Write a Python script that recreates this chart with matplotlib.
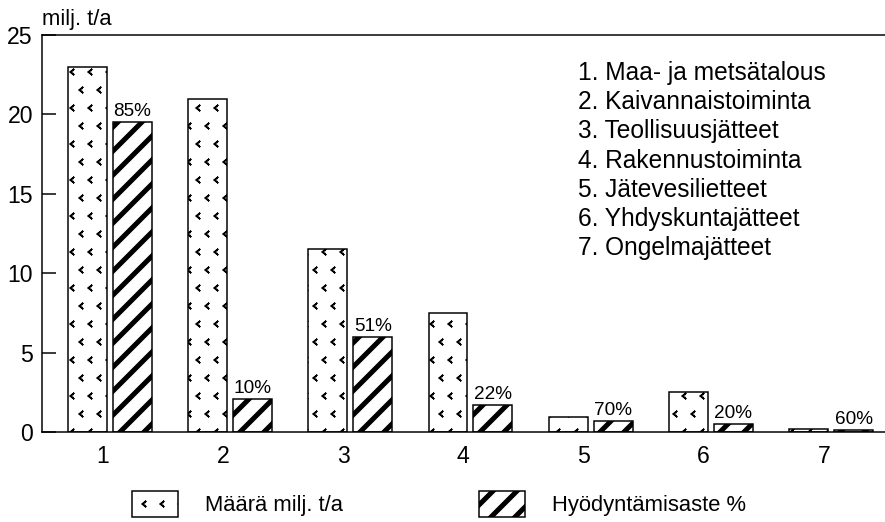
import matplotlib
matplotlib.use("Agg")
import matplotlib.pyplot as plt
import matplotlib.hatch as mhatch
from matplotlib.patches import Patch
from matplotlib.path import Path
import numpy as np

plt.rcParams["font.family"] = ["Liberation Sans", "DejaVu Sans"]

categories = ["1", "2", "3", "4", "5", "6", "7"]
category_names = [
    "1. Maa- ja metsätalous",
    "2. Kaivannaistoiminta",
    "3. Teollisuusjätteet",
    "4. Rakennustoiminta",
    "5. Jätevesilietteet",
    "6. Yhdyskuntajätteet",
    "7. Ongelmajätteet",
]
amount = [23.0, 21.0, 11.5, 7.5, 0.95, 2.5, 0.2]
utilized = [19.5, 2.1, 6.0, 1.7, 0.7, 0.5, 0.12]
utilization_pct = ["85%", "10%", "51%", "22%", "70%", "20%", "60%"]
legend_labels = ["Määrä milj. t/a", "Hyödyntämisaste %"]


class Chevrons(mhatch.Shapes):
    """Sparse '<' marks, used in place of the star hatch ('*')."""
    size = 0.3
    filled = False

    def __init__(self, hatch, density):
        # num_rows must stay even for the Shapes vertex count
        self.num_rows = hatch.count("*") * 4
        self.shape_vertices = np.array([[0.3, 0.5], [-0.3, 0.0], [0.3, -0.5]])
        self.shape_codes = np.array([Path.MOVETO, Path.LINETO, Path.LINETO],
                                    dtype=Path.code_type)
        super().__init__(hatch, density)


mhatch._hatch_types = [t for t in mhatch._hatch_types if t is not mhatch.Stars]
mhatch._hatch_types.append(Chevrons)

# dpi 72 -> 1 pt == 1 px, and the hatch tile becomes 72 px
W, H = 885, 522
fig = plt.figure(figsize=(W / 72, H / 72), dpi=72)
ax = fig.add_axes([42 / W, 1 - 432 / H, 1 - 42 / W, (432 - 35) / H])

x = np.arange(1, len(categories) + 1)
w = 0.324
off = 0.187
STRIPE_LW = 5
DOT_LW = 1.6


def set_hlw(patch, lw):
    try:
        patch.set_hatch_linewidth(lw)
    except AttributeError:
        pass


b1 = ax.bar(x - off, amount, w, facecolor="white", edgecolor="black",
            linewidth=1.5, hatch="*")
b2 = ax.bar(x + off, utilized, w, facecolor="white", edgecolor="black",
            linewidth=1.5, hatch="/")
for p in b1:
    set_hlw(p, DOT_LW)
for p in b2:
    set_hlw(p, STRIPE_LW)

for xi, h, lab in zip(x + off, utilized, utilization_pct):
    ax.annotate(lab, (xi, h), xytext=(0, 6), textcoords="offset points",
                ha="center", va="baseline", fontsize=19)

ax.set_xlim(0.435, 7.449)
ax.set_ylim(0, 25)
ax.set_yticks([0, 5, 10, 15, 20, 25])
ax.set_xticks(x - 0.06)
ax.set_xticklabels(categories)
ax.tick_params(axis="y", direction="in", length=14, width=1.5, labelsize=23, pad=9)
ax.tick_params(axis="x", length=0, labelsize=23, pad=13)
ax.spines["right"].set_visible(False)
for s in ("left", "top", "bottom"):
    ax.spines[s].set_linewidth(1.5)

fig.text(42 / W, 1 - 19 / H, "milj. t/a", ha="left", va="center", fontsize=22)

for i, name in enumerate(category_names):
    fig.text(578 / W, 1 - (73 + 29.2 * i) / H, name,
             ha="left", va="center", fontsize=24.5)

# two legend entries placed separately under the axis
for lab, hatch, x0, lw in [(legend_labels[0], "*", 132, DOT_LW),
                           (legend_labels[1], "/", 479, STRIPE_LW)]:
    leg = fig.legend(handles=[Patch(facecolor="white", edgecolor="black",
                                    linewidth=1.5, hatch=hatch, label=lab)],
                     loc="center left", bbox_to_anchor=(x0 / W, 1 - 504 / H),
                     frameon=False, fontsize=22, handlelength=2.1,
                     handleheight=1.45, handletextpad=1.2,
                     borderpad=0, borderaxespad=0)
    set_hlw(leg.legend_handles[0], lw)

fig.savefig("out.png", dpi=72)
